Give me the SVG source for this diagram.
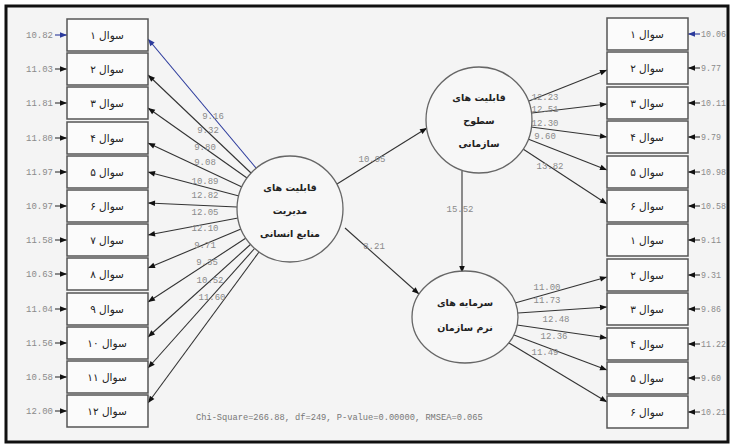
<svg xmlns="http://www.w3.org/2000/svg" width="731" height="447" viewBox="0 0 731 447">
<style>
.box{fill:#fbfbfb;stroke:#555;stroke-width:1.5}
.lat{fill:#f7f7f7;stroke:#666;stroke-width:1.3}
.q{font-family:"DejaVu Sans",sans-serif;font-size:10.5px;fill:#222;text-anchor:middle}
.ct{font-family:"DejaVu Sans",sans-serif;font-size:9.5px;font-weight:bold;fill:#222;text-anchor:middle}
.num{font-family:"Liberation Mono",monospace;font-size:9px;fill:#8a8a8a}
.rn{font-family:"Liberation Mono",monospace;font-size:8.3px;fill:#8a8a8a}
.mid{text-anchor:middle}
.end{text-anchor:end}
.ln{stroke:#333;stroke-width:1.1;fill:none;marker-end:url(#ah)}
.lb{stroke:#2b3a9c;stroke-width:1.1;fill:none;marker-end:url(#ahb)}
.chi{font-family:"Liberation Mono",monospace;font-size:8.7px;fill:#777}
</style>
<defs>
<marker id="ah" viewBox="0 0 10 10" refX="10" refY="5" markerWidth="8" markerHeight="7" markerUnits="userSpaceOnUse" orient="auto"><path d="M0,1 L10,5 L0,9 z" fill="#111"/></marker>
<marker id="ahb" viewBox="0 0 10 10" refX="10" refY="5" markerWidth="8" markerHeight="7" markerUnits="userSpaceOnUse" orient="auto"><path d="M0,1 L10,5 L0,9 z" fill="#2b3a9c"/></marker>
</defs>
<rect x="0" y="0" width="731" height="447" fill="#ffffff"/>
<rect x="6" y="6" width="722" height="436" fill="#f4f4f4" stroke="#111" stroke-width="3"/>

<g id="connectors">
<line class="lb" x1="55" y1="35" x2="67" y2="35"/>
<line class="ln" x1="55" y1="69" x2="67" y2="69"/>
<line class="ln" x1="55" y1="103" x2="67" y2="103"/>
<line class="ln" x1="55" y1="138" x2="67" y2="138"/>
<line class="ln" x1="55" y1="172" x2="67" y2="172"/>
<line class="ln" x1="55" y1="206" x2="67" y2="206"/>
<line class="ln" x1="55" y1="240" x2="67" y2="240"/>
<line class="ln" x1="55" y1="274" x2="67" y2="274"/>
<line class="ln" x1="55" y1="309" x2="67" y2="309"/>
<line class="ln" x1="55" y1="343" x2="67" y2="343"/>
<line class="ln" x1="55" y1="377" x2="67" y2="377"/>
<line class="ln" x1="55" y1="411" x2="67" y2="411"/>
<line class="lb" x1="700" y1="34" x2="688" y2="34"/>
<line class="ln" x1="700" y1="68" x2="688" y2="68"/>
<line class="ln" x1="700" y1="103" x2="688" y2="103"/>
<line class="ln" x1="700" y1="137" x2="688" y2="137"/>
<line class="ln" x1="700" y1="172" x2="688" y2="172"/>
<line class="ln" x1="700" y1="206" x2="688" y2="206"/>
<line class="ln" x1="700" y1="240" x2="688" y2="240"/>
<line class="ln" x1="700" y1="275" x2="688" y2="275"/>
<line class="ln" x1="700" y1="309" x2="688" y2="309"/>
<line class="ln" x1="700" y1="344" x2="688" y2="344"/>
<line class="ln" x1="700" y1="378" x2="688" y2="378"/>
<line class="ln" x1="700" y1="412" x2="688" y2="412"/>
<line class="lb" x1="256" y1="168" x2="148" y2="39"/>
<line class="ln" x1="251" y1="173" x2="148" y2="75"/>
<line class="ln" x1="247" y1="178" x2="148" y2="108"/>
<line class="ln" x1="242" y1="187" x2="148" y2="143"/>
<line class="ln" x1="239" y1="196" x2="148" y2="172"/>
<line class="ln" x1="237" y1="207" x2="148" y2="203"/>
<line class="ln" x1="238" y1="218" x2="148" y2="235"/>
<line class="ln" x1="241" y1="229" x2="148" y2="268"/>
<line class="ln" x1="246" y1="238" x2="148" y2="302"/>
<line class="ln" x1="251" y1="244" x2="148" y2="337"/>
<line class="ln" x1="255" y1="248" x2="148" y2="368"/>
<line class="ln" x1="259" y1="252" x2="148" y2="403"/>
<line class="ln" x1="337" y1="184" x2="427" y2="128"/>
<line class="ln" x1="345" y1="228" x2="419" y2="294"/>
<line class="ln" x1="462" y1="171" x2="462" y2="273"/>
<line class="ln" x1="529" y1="101" x2="607" y2="70"/>
<line class="ln" x1="532" y1="113" x2="607" y2="104"/>
<line class="ln" x1="531" y1="127" x2="607" y2="137"/>
<line class="ln" x1="528" y1="139" x2="607" y2="170"/>
<line class="ln" x1="523" y1="149" x2="607" y2="204"/>
<line class="ln" x1="515" y1="303" x2="607" y2="277"/>
<line class="ln" x1="518" y1="313" x2="607" y2="307"/>
<line class="ln" x1="517" y1="325" x2="607" y2="338"/>
<line class="ln" x1="514" y1="335" x2="607" y2="370"/>
<line class="ln" x1="509" y1="343" x2="607" y2="402"/>
</g>

<g id="left-errors">
<text class="num end" x="53" y="38">10.82</text>
<text class="num end" x="53" y="72">11.03</text>
<text class="num end" x="53" y="106">11.81</text>
<text class="num end" x="53" y="141">11.80</text>
<text class="num end" x="53" y="175">11.97</text>
<text class="num end" x="53" y="209">10.97</text>
<text class="num end" x="53" y="243">11.58</text>
<text class="num end" x="53" y="277">10.63</text>
<text class="num end" x="53" y="312">11.04</text>
<text class="num end" x="53" y="346">11.56</text>
<text class="num end" x="53" y="380">10.58</text>
<text class="num end" x="53" y="414">12.00</text>
</g>
<g id="right-errors">
<text class="rn" x="701" y="37">10.06</text>
<text class="rn" x="701" y="71">9.77</text>
<text class="rn" x="701" y="106">10.11</text>
<text class="rn" x="701" y="140">9.79</text>
<text class="rn" x="701" y="175">10.98</text>
<text class="rn" x="701" y="209">10.58</text>
<text class="rn" x="701" y="243">9.11</text>
<text class="rn" x="701" y="278">9.31</text>
<text class="rn" x="701" y="312">9.86</text>
<text class="rn" x="701" y="347">11.22</text>
<text class="rn" x="701" y="381">9.60</text>
<text class="rn" x="701" y="415">10.21</text>
</g>
<g id="loading-labels">
<text class="num mid" x="213" y="119">9.16</text>
<text class="num mid" x="208" y="133">9.32</text>
<text class="num mid" x="205" y="150">9.80</text>
<text class="num mid" x="205" y="165">9.08</text>
<text class="num mid" x="205" y="184">10.89</text>
<text class="num mid" x="205" y="198">12.82</text>
<text class="num mid" x="205" y="215">12.05</text>
<text class="num mid" x="205" y="231">12.10</text>
<text class="num mid" x="205" y="248">9.71</text>
<text class="num mid" x="207" y="265">9.35</text>
<text class="num mid" x="210" y="283">10.52</text>
<text class="num mid" x="212" y="300">11.60</text>
<text class="num mid" x="372" y="162">10.95</text>
<text class="num mid" x="460" y="212">15.52</text>
<text class="num mid" x="374" y="249">8.21</text>
<text class="num mid" x="545" y="100">12.23</text>
<text class="num mid" x="545" y="112">12.51</text>
<text class="num mid" x="545" y="126">12.30</text>
<text class="num mid" x="545" y="139">9.60</text>
<text class="num mid" x="550" y="169">13.82</text>
<text class="num mid" x="547" y="290">11.00</text>
<text class="num mid" x="547" y="303">11.73</text>
<text class="num mid" x="556" y="322">12.48</text>
<text class="num mid" x="554" y="339">12.36</text>
<text class="num mid" x="545" y="355">11.49</text>
</g>

<g id="q1"><rect class="box" x="67" y="19" width="81" height="32"/><text class="q" x="107" y="39">سوال ۱</text></g>
<g id="q2"><rect class="box" x="67" y="53" width="81" height="32"/><text class="q" x="107" y="73">سوال ۲</text></g>
<g id="q3"><rect class="box" x="67" y="87" width="81" height="32"/><text class="q" x="107" y="107">سوال ۳</text></g>
<g id="q4"><rect class="box" x="67" y="122" width="81" height="32"/><text class="q" x="107" y="142">سوال ۴</text></g>
<g id="q5"><rect class="box" x="67" y="156" width="81" height="32"/><text class="q" x="107" y="176">سوال ۵</text></g>
<g id="q6"><rect class="box" x="67" y="190" width="81" height="32"/><text class="q" x="107" y="210">سوال ۶</text></g>
<g id="q7"><rect class="box" x="67" y="224" width="81" height="32"/><text class="q" x="107" y="244">سوال ۷</text></g>
<g id="q8"><rect class="box" x="67" y="258" width="81" height="32"/><text class="q" x="107" y="278">سوال ۸</text></g>
<g id="q9"><rect class="box" x="67" y="293" width="81" height="32"/><text class="q" x="107" y="313">سوال ۹</text></g>
<g id="q10"><rect class="box" x="67" y="327" width="81" height="32"/><text class="q" x="107" y="347">سوال ۱۰</text></g>
<g id="q11"><rect class="box" x="67" y="361" width="81" height="32"/><text class="q" x="107" y="381">سوال ۱۱</text></g>
<g id="q12"><rect class="box" x="67" y="395" width="81" height="32"/><text class="q" x="107" y="415">سوال ۱۲</text></g>

<g id="r1"><rect class="box" x="607" y="18" width="81" height="32"/><text class="q" x="647" y="38">سوال ۱</text></g>
<g id="r2"><rect class="box" x="607" y="52" width="81" height="32"/><text class="q" x="647" y="72">سوال ۲</text></g>
<g id="r3"><rect class="box" x="607" y="87" width="81" height="32"/><text class="q" x="647" y="107">سوال ۳</text></g>
<g id="r4"><rect class="box" x="607" y="121" width="81" height="32"/><text class="q" x="647" y="141">سوال ۴</text></g>
<g id="r5"><rect class="box" x="607" y="156" width="81" height="32"/><text class="q" x="647" y="176">سوال ۵</text></g>
<g id="r6"><rect class="box" x="607" y="190" width="81" height="32"/><text class="q" x="647" y="210">سوال ۶</text></g>
<g id="r7"><rect class="box" x="607" y="224" width="81" height="32"/><text class="q" x="647" y="244">سوال ۱</text></g>
<g id="r8"><rect class="box" x="607" y="259" width="81" height="32"/><text class="q" x="647" y="279">سوال ۲</text></g>
<g id="r9"><rect class="box" x="607" y="293" width="81" height="32"/><text class="q" x="647" y="313">سوال ۳</text></g>
<g id="r10"><rect class="box" x="607" y="328" width="81" height="32"/><text class="q" x="647" y="348">سوال ۴</text></g>
<g id="r11"><rect class="box" x="607" y="362" width="81" height="32"/><text class="q" x="647" y="382">سوال ۵</text></g>
<g id="r12"><rect class="box" x="607" y="396" width="81" height="32"/><text class="q" x="647" y="416">سوال ۶</text></g>

<g id="hr-management">
<circle class="lat" cx="290" cy="209" r="53"/>
<text class="ct" x="290" y="191">قابلیت های</text>
<text class="ct" x="290" y="214">مدیریت</text>
<text class="ct" x="290" y="237">منابع انسانی</text>
</g>
<g id="org-levels">
<circle class="lat" cx="479" cy="120" r="53"/>
<text class="ct" x="479" y="101">قابلیت های</text>
<text class="ct" x="479" y="124">سطوح</text>
<text class="ct" x="479" y="147">سازمانی</text>
</g>
<g id="soft-capital">
<ellipse class="lat" cx="465" cy="317" rx="53" ry="46"/>
<text class="ct" x="465" y="306">سرمایه های</text>
<text class="ct" x="465" y="331">نرم سازمان</text>
</g>

<text class="chi" x="196" y="420">Chi-Square=266.88, df=249, P-value=0.00000, RMSEA=0.065</text>
</svg>
